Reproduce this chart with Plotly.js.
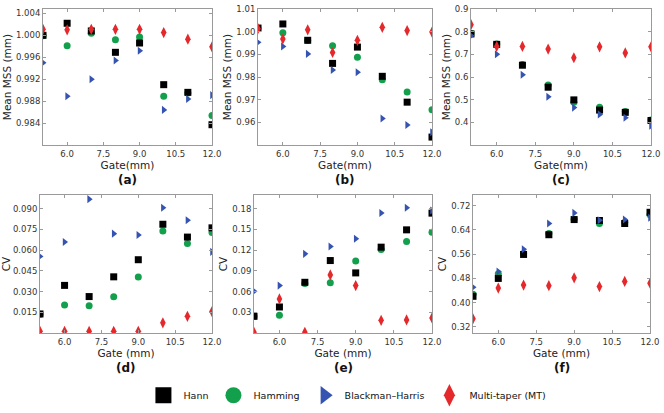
<!DOCTYPE html>
<html>
<head>
<meta charset="utf-8">
<script src="https://cdn.plot.ly/plotly-3.0.1.min.js"></script>
<style>
  html, body { margin: 0; padding: 0; background: #fff; }
  #chart { width: 664px; height: 413px; }
</style>
</head>
<body>
<div id="chart"></div>
<script>
/* ---- Data ---- */
const gates = [5, 6, 7, 8, 9, 10, 11, 12];

// (a) Mean MSS, set 1
const aHann    = [1.0000, 1.0022, 1.0008, 0.9969, 0.9986, 0.9910, 0.9896, 0.9837];
const aHamming = [0.9999, 0.9981, 1.0004, 0.9992, 0.9997, 0.9889, 0.9895, 0.9854];
const aBH      = [0.9950, 0.9889, 0.9920, 0.9954, 0.9972, 0.9864, 0.9884, 0.9891];
const aMT      = [1.0011, 1.0010, 1.0011, 1.0011, 1.0011, 1.0005, 0.9993, 0.9979];
const aMTerr   = [0.0006, 0.0006, 0.0006, 0.0006, 0.0006, 0.0006, 0.0006, 0.0005];

// (b) Mean MSS, set 2
const bHann    = [1.0016, 1.0034, 0.9962, 0.9860, 0.9932, 0.9803, 0.9689, 0.9535];
const bHamming = [1.0015, 0.9995, 0.9961, 0.9938, 0.9887, 0.9788, 0.9734, 0.9656];
const bBH      = [0.9953, 0.9935, 0.9902, 0.9831, 0.9821, 0.9617, 0.9588, 0.9556];
const bMT      = [1.0013, 0.9968, 1.0008, 0.9908, 0.9962, 1.0019, 1.0005, 0.9998];
const bMTerr   = [0.0010, 0.0010, 0.0010, 0.0010, 0.0010, 0.0010, 0.0010, 0.0010];

// (c) Mean MSS, set 3
const cHann    = [0.790, 0.744, 0.652, 0.555, 0.499, 0.454, 0.444, 0.408];
const cHamming = [0.792, 0.746, 0.655, 0.565, 0.489, 0.466, 0.448, 0.410];
const cBH      = [0.782, 0.700, 0.610, 0.513, 0.465, 0.435, 0.420, 0.385];
const cMT      = [0.831, 0.735, 0.735, 0.723, 0.685, 0.733, 0.706, 0.733];
const cMTerr   = [0.014, 0.014, 0.014, 0.014, 0.014, 0.014, 0.014, 0.014];

// (d) CV, set 1
const dHann    = [0.0138, 0.0345, 0.0264, 0.0407, 0.0531, 0.0788, 0.0695, 0.0762];
const dHamming = [0.0135, 0.0202, 0.0198, 0.0262, 0.0405, 0.0740, 0.0648, 0.0729];
const dBH      = [0.0555, 0.0660, 0.0970, 0.0720, 0.0710, 0.0907, 0.0817, 0.0588];
const dMT      = [0.0012, 0.0012, 0.0012, 0.0012, 0.0012, 0.0074, 0.0121, 0.0155];
const dMTerr   = [0.0015, 0.0015, 0.0015, 0.0015, 0.0015, 0.0020, 0.0020, 0.0020];

// (e) CV, set 2
const eHann    = [0.0242, 0.0377, 0.0735, 0.1050, 0.0871, 0.1244, 0.1495, 0.1737];
const eHamming = [0.0240, 0.0256, 0.0716, 0.0730, 0.1045, 0.1210, 0.1326, 0.1460];
const eBH      = [0.0605, 0.0687, 0.1147, 0.1253, 0.1365, 0.1740, 0.1815, 0.1776];
const eMT      = [0.0010, 0.0494, 0.0010, 0.0842, 0.0687, 0.0184, 0.0189, 0.0218];
const eMTerr   = [0.0040, 0.0040, 0.0040, 0.0040, 0.0040, 0.0040, 0.0040, 0.0040];

// (f) CV, set 3
const fHann    = [0.421, 0.480, 0.559, 0.624, 0.674, 0.671, 0.661, 0.698];
const fHamming = [0.428, 0.495, 0.562, 0.628, 0.675, 0.661, 0.665, 0.690];
const fBH      = [0.451, 0.503, 0.576, 0.661, 0.696, 0.672, 0.674, 0.680];
const fMT      = [0.347, 0.448, 0.458, 0.456, 0.482, 0.453, 0.470, 0.464];
const fMTerr   = [0.010, 0.010, 0.010, 0.010, 0.010, 0.010, 0.010, 0.010];

const xTicks = [6.0, 7.5, 9.0, 10.5, 12.0];

/* ---- Styles ---- */
const COL = { hann: '#000000', hamming: '#12a04c', bh: '#3553b0', mt: '#e4282c' };
const FONT = 'DejaVu Sans, Verdana, sans-serif';
const W = 664, H = 413;

// panel frames in pixels: [left, right, top, bottom]
const panels = [
  { id: 'a', box: [43, 212, 9, 145],  yr: [0.980, 1.0048], dt: 0.004, fmt: '.3f', yt: 'Mean MSS (mm)', xt: 'Gate(mm)',
    d: [aHann, aHamming, aBH, aMT, aMTerr] },
  { id: 'b', box: [258, 432, 9, 145], yr: [0.950, 1.010], dt: 0.01, fmt: '.2f', yt: 'Mean MSS (mm)', xt: 'Gate(mm)',
    d: [bHann, bHamming, bBH, bMT, bMTerr] },
  { id: 'c', box: [471, 651, 9, 145], yr: [0.30, 0.90], dt: 0.1, fmt: '.1f', yt: 'Mean MSS (mm)', xt: 'Gate(mm)',
    d: [cHann, cHamming, cBH, cMT, cMTerr] },
  { id: 'd', box: [40, 212, 195, 333], yr: [0.0, 0.100], dt: 0.015, fmt: '.3f', yt: 'CV', xt: 'Gate (mm)',
    d: [dHann, dHamming, dBH, dMT, dMTerr] },
  { id: 'e', box: [254, 432, 195, 333], yr: [0.0, 0.20], dt: 0.03, fmt: '.2f', yt: 'CV', xt: 'Gate (mm)',
    d: [eHann, eHamming, eBH, eMT, eMTerr] },
  { id: 'f', box: [473, 650, 195, 333], yr: [0.30, 0.755], dt: 0.08, fmt: '.2f', yt: 'CV', xt: 'Gate (mm)',
    d: [fHann, fHamming, fBH, fMT, fMTerr] },
];

const traces = [];
const layout = {
  width: W, height: H,
  margin: { l: 0, r: 0, t: 0, b: 0 },
  paper_bgcolor: '#fff', plot_bgcolor: '#fff',
  font: { family: FONT, size: 9, color: '#222' },
  showlegend: true,
  legend: {
    orientation: 'h', x: 0.216, y: 0.043, xanchor: 'left', yanchor: 'middle',
    font: { family: FONT, size: 9.5, color: '#111' }, bgcolor: 'rgba(0,0,0,0)',
    itemclick: false,
  },
  annotations: [],
};

panels.forEach((p, i) => {
  const n = i === 0 ? '' : String(i + 1);
  const xa = 'x' + n, ya = 'y' + n;
  const [l, r, t, b] = p.box;
  const [hann, hamming, bh, mt, mtErr] = p.d;
  const common = { x: gates, type: 'scatter', mode: 'markers', xaxis: xa, yaxis: ya, showlegend: false, hoverinfo: 'x+y' };
  traces.push({ ...common, y: hamming, name: 'Hamming', marker: { symbol: 'circle', size: 7, color: COL.hamming } });
  traces.push({ ...common, y: hann, name: 'Hann', marker: { symbol: 'square', size: 7, color: COL.hann } });
  traces.push({ ...common, y: bh, name: 'Blackman–Harris', marker: { symbol: 'triangle-right', size: 7, color: COL.bh } });
  traces.push({ ...common, y: mt, name: 'Multi-taper (MT)',
    marker: { symbol: 'diamond-tall', size: 8, color: COL.mt },
    error_y: { type: 'data', array: mtErr, visible: true, color: COL.mt, thickness: 1.5, width: 0 } });

  const axBase = {
    showline: true, mirror: 'ticks', linecolor: '#9a9a9a', linewidth: 1,
    ticks: 'inside', ticklen: 3, tickcolor: '#9a9a9a',
    showgrid: false, zeroline: false,
    tickfont: { family: FONT, size: 8.5, color: '#333' },
    title: { font: { family: FONT, size: 10.5, color: '#222' } },
  };
  layout['xaxis' + n] = {
    ...axBase, anchor: ya, domain: [l / W, r / W], range: [5, 12],
    tickvals: xTicks, tickformat: '.1f', ticklabelstandoff: 1,
    title: { ...axBase.title, text: p.xt, standoff: 0 },
  };
  // y ticks at multiples of the step, above the lower limit
  const yvals = [];
  let k = Math.floor(p.yr[0] / p.dt + 1e-6) + 1;
  for (; k * p.dt <= p.yr[1] + 1e-9; k++) yvals.push(+(k * p.dt).toFixed(4));
  layout['yaxis' + n] = {
    ...axBase, anchor: xa, domain: [1 - b / H, 1 - t / H], range: p.yr,
    tickvals: yvals, tickformat: p.fmt,
    title: { ...axBase.title, text: p.yt, standoff: 2 },
  };
  layout.annotations.push({
    text: '<b>(' + p.id + ')</b>', xref: 'paper', yref: 'paper',
    x: (l + r) / 2 / W, y: 1 - (b + 35) / H, xanchor: 'center', yanchor: 'middle',
    showarrow: false, font: { family: FONT, size: 12, color: '#111' },
  });
});

// legend-only entries with larger symbols
const legendItems = [
  { name: 'Hann', symbol: 'square', color: COL.hann },
  { name: 'Hamming', symbol: 'circle', color: COL.hamming },
  { name: 'Blackman–Harris', symbol: 'triangle-right', color: COL.bh },
  { name: 'Multi-taper (MT)', symbol: 'diamond-tall', color: COL.mt },
];
legendItems.forEach(li => traces.push({
  x: [null], y: [null], type: 'scatter', mode: 'markers', name: li.name,
  marker: { symbol: li.symbol, size: 16, color: li.color }, showlegend: true,
}));

Plotly.newPlot('chart', traces, layout, { displayModeBar: false, staticPlot: true });
</script>
</body>
</html>
